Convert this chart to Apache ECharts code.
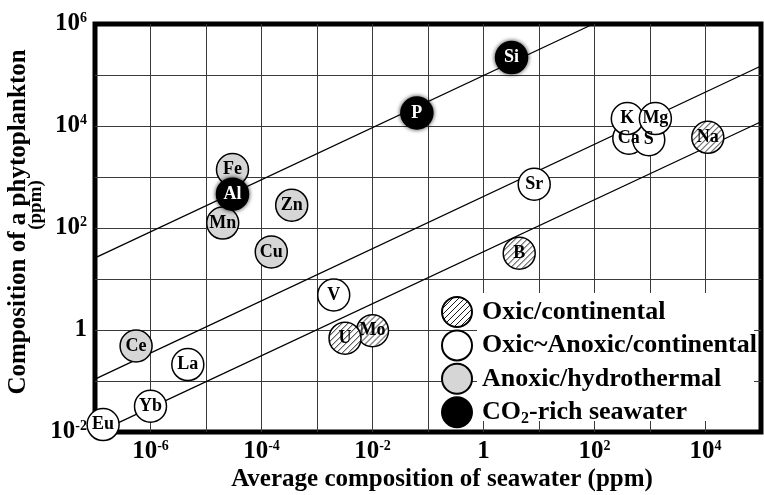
<!DOCTYPE html>
<html>
<head>
<meta charset="utf-8">
<script src="https://cdn.jsdelivr.net/npm/echarts@6/dist/echarts.min.js"></script>
<style>
html, body { margin: 0; padding: 0; background: #fff; }
#chart { width: 764px; height: 495px; }
</style>
</head>
<body>
<div id="chart"></div>
<script>
const FONT = '"Liberation Serif", "Times New Roman", serif';

// Element concentrations: average seawater (ppm) vs. phytoplankton (ppm)
const oxicNames = ['B', 'Mo', 'U', 'Na'];
const oxicSea = [4.4, 0.01, 0.0032, 11000];
const oxicPlankton = [32, 0.97, 0.69, 6000];

const mixedNames = ['Ca', 'S', 'K', 'Mg', 'Sr', 'V', 'La', 'Yb', 'Eu'];
const mixedSea = [415, 950, 390, 1250, 8.2, 0.002, 4.7e-6, 1e-6, 1.4e-7];
const mixedPlankton = [5750, 5400, 14000, 14000, 720, 4.85, 0.21, 0.032, 0.014];

const hydroNames = ['Fe', 'Mn', 'Zn', 'Cu', 'Ce'];
const hydroSea = [3e-5, 2e-5, 3.5e-4, 1.5e-4, 5.5e-7];
const hydroPlankton = [1400, 125, 280, 34, 0.485];

const co2Names = ['Al', 'P', 'Si'];
const co2Sea = [3e-5, 0.063, 3.2];
const co2Plankton = [460, 18000, 2.2e5];

// Trend lines as [seawater, plankton] end points
const upperTrend = [[1e-7, 26], [95, 1e6]];
const middleTrend = [[1e-7, 0.109], [1e5, 1.5e5]];
const lowerTrend = [[1.4e-7, 0.011], [1e5, 12100]];

const groupNames = ['Oxic/continental', 'Oxic~Anoxic/continental', 'Anoxic/hydrothermal', 'CO2-rich seawater'];

const SYMBOL_SIZE = 32;

// Diagonal hatch tile for the oxic/continental group
function hatchTile() {
  const s = 6;
  const c = document.createElement('canvas');
  c.width = s; c.height = s;
  const g = c.getContext('2d');
  g.fillStyle = '#fff';
  g.fillRect(0, 0, s, s);
  g.strokeStyle = '#000';
  g.lineWidth = 0.9;
  g.beginPath();
  g.moveTo(0, s); g.lineTo(s, 0);
  g.moveTo(-1, 1); g.lineTo(1, -1);
  g.moveTo(s - 1, s + 1); g.lineTo(s + 1, s - 1);
  g.stroke();
  return c;
}
const tile = hatchTile();
// scatter symbols are unit shapes scaled up by half their size, so the
// pattern is scaled down by the same factor to keep 1:1 pixels
const hatchForSymbol = { image: tile, repeat: 'repeat', scaleX: 2 / SYMBOL_SIZE, scaleY: 2 / SYMBOL_SIZE };
const hatchForLegend = { image: tile, repeat: 'repeat' };

const tickRich = {
  b: { fontFamily: FONT, fontWeight: 'bold', fontSize: 25, lineHeight: 26, color: '#000' },
  s: { fontFamily: FONT, fontWeight: 'bold', fontSize: 14, lineHeight: 14, verticalAlign: 'top', color: '#000' }
};

function powerLabel(v) {
  const e = Math.round(Math.log10(v));
  if (e % 2 !== 0) return '';
  if (e === 0) return '{b|1}';
  return '{b|10}{s|' + e + '}';
}

function pointSeries(name, names, xs, ys, fill, textColor, extraStyle) {
  return {
    name: name,
    type: 'scatter',
    symbol: 'circle',
    symbolSize: SYMBOL_SIZE,
    z: 3,
    data: names.map((n, i) => ({ name: n, value: [xs[i], ys[i]] })),
    itemStyle: Object.assign({ color: fill, borderColor: '#000', borderWidth: 1.5, opacity: 1 }, extraStyle || {}),
    label: {
      show: true, position: 'inside', formatter: '{b}',
      color: textColor, fontFamily: FONT, fontWeight: 'bold', fontSize: 18
    },
    emphasis: { disabled: true }
  };
}

function trendSeries(points) {
  return {
    type: 'line',
    data: points,
    symbol: 'none',
    z: 2,
    silent: true,
    lineStyle: { color: '#000', width: 1.3 },
    emphasis: { disabled: true }
  };
}

const chart = echarts.init(document.getElementById('chart'));

const axisCommon = {
  type: 'log',
  logBase: 10,
  interval: 1,
  axisLine: { show: false },
  axisTick: { show: false },
  splitLine: { show: true, showMinLine: false, showMaxLine: false, lineStyle: { color: '#3a3a3a', width: 1 } },
  axisLabel: { formatter: powerLabel, rich: tickRich }
};

chart.setOption({
  animation: false,
  grid: {
    left: 95, right: 2, top: 24, bottom: 63,
    show: true, borderColor: '#000', borderWidth: 5, backgroundColor: 'transparent'
  },
  xAxis: Object.assign({}, axisCommon, {
    min: 1e-7, max: 1e5,
    axisLabel: Object.assign({}, axisCommon.axisLabel, { margin: 7 })
  }),
  yAxis: Object.assign({}, axisCommon, {
    min: 1e-2, max: 1e6,
    axisLabel: Object.assign({}, axisCommon.axisLabel, { margin: 8 })
  }),
  legend: {
    data: [
      { name: groupNames[0], itemStyle: { color: hatchForLegend } },
      groupNames[1], groupNames[2], groupNames[3]
    ],
    orient: 'vertical',
    left: 441, top: 296,
    padding: 0,
    itemWidth: 30, itemHeight: 30, itemGap: 1.4,
    icon: 'circle',
    selectedMode: false,
    formatter: n => n.replace('CO2', 'CO{sub|2}'),
    textStyle: {
      fontFamily: FONT, fontWeight: 'bold', fontSize: 26, lineHeight: 30, color: '#000',
      padding: [0, 0, 0, 5],
      rich: {
        sub: { fontFamily: FONT, fontWeight: 'bold', fontSize: 16, lineHeight: 22, verticalAlign: 'bottom', color: '#000' }
      }
    }
  },
  graphic: [
    { type: 'rect', silent: true, z: 1, shape: { x: 477, y: 293, width: 277, height: 128 }, style: { fill: '#fff' } },
    { type: 'text', silent: true, x: 442, y: 479.5,
      style: { text: 'Average composition of seawater (ppm)', fontFamily: FONT, fontWeight: 'bold', fontSize: 25, fill: '#000', align: 'center', verticalAlign: 'middle' } },
    { type: 'text', silent: true, x: 19, y: 222, rotation: Math.PI / 2,
      style: { text: 'Composition of a phytoplankton', fontFamily: FONT, fontWeight: 'bold', fontSize: 25, fill: '#000', align: 'center', verticalAlign: 'middle' } },
    { type: 'text', silent: true, x: 36, y: 205, rotation: Math.PI / 2,
      style: { text: '(ppm)', fontFamily: FONT, fontWeight: 'bold', fontSize: 19, fill: '#000', align: 'center', verticalAlign: 'middle' } }
  ],
  series: [
    trendSeries(upperTrend),
    trendSeries(middleTrend),
    trendSeries(lowerTrend),
    pointSeries(groupNames[0], oxicNames, oxicSea, oxicPlankton, hatchForSymbol, '#000'),
    pointSeries(groupNames[1], mixedNames, mixedSea, mixedPlankton, '#fff', '#000'),
    pointSeries(groupNames[2], hydroNames, hydroSea, hydroPlankton, '#d6d6d6', '#000'),
    pointSeries(groupNames[3], co2Names, co2Sea, co2Plankton, '#000', '#fff',
      { shadowBlur: 4, shadowColor: 'rgba(0,0,0,0.7)' })
  ]
});
</script>
</body>
</html>
